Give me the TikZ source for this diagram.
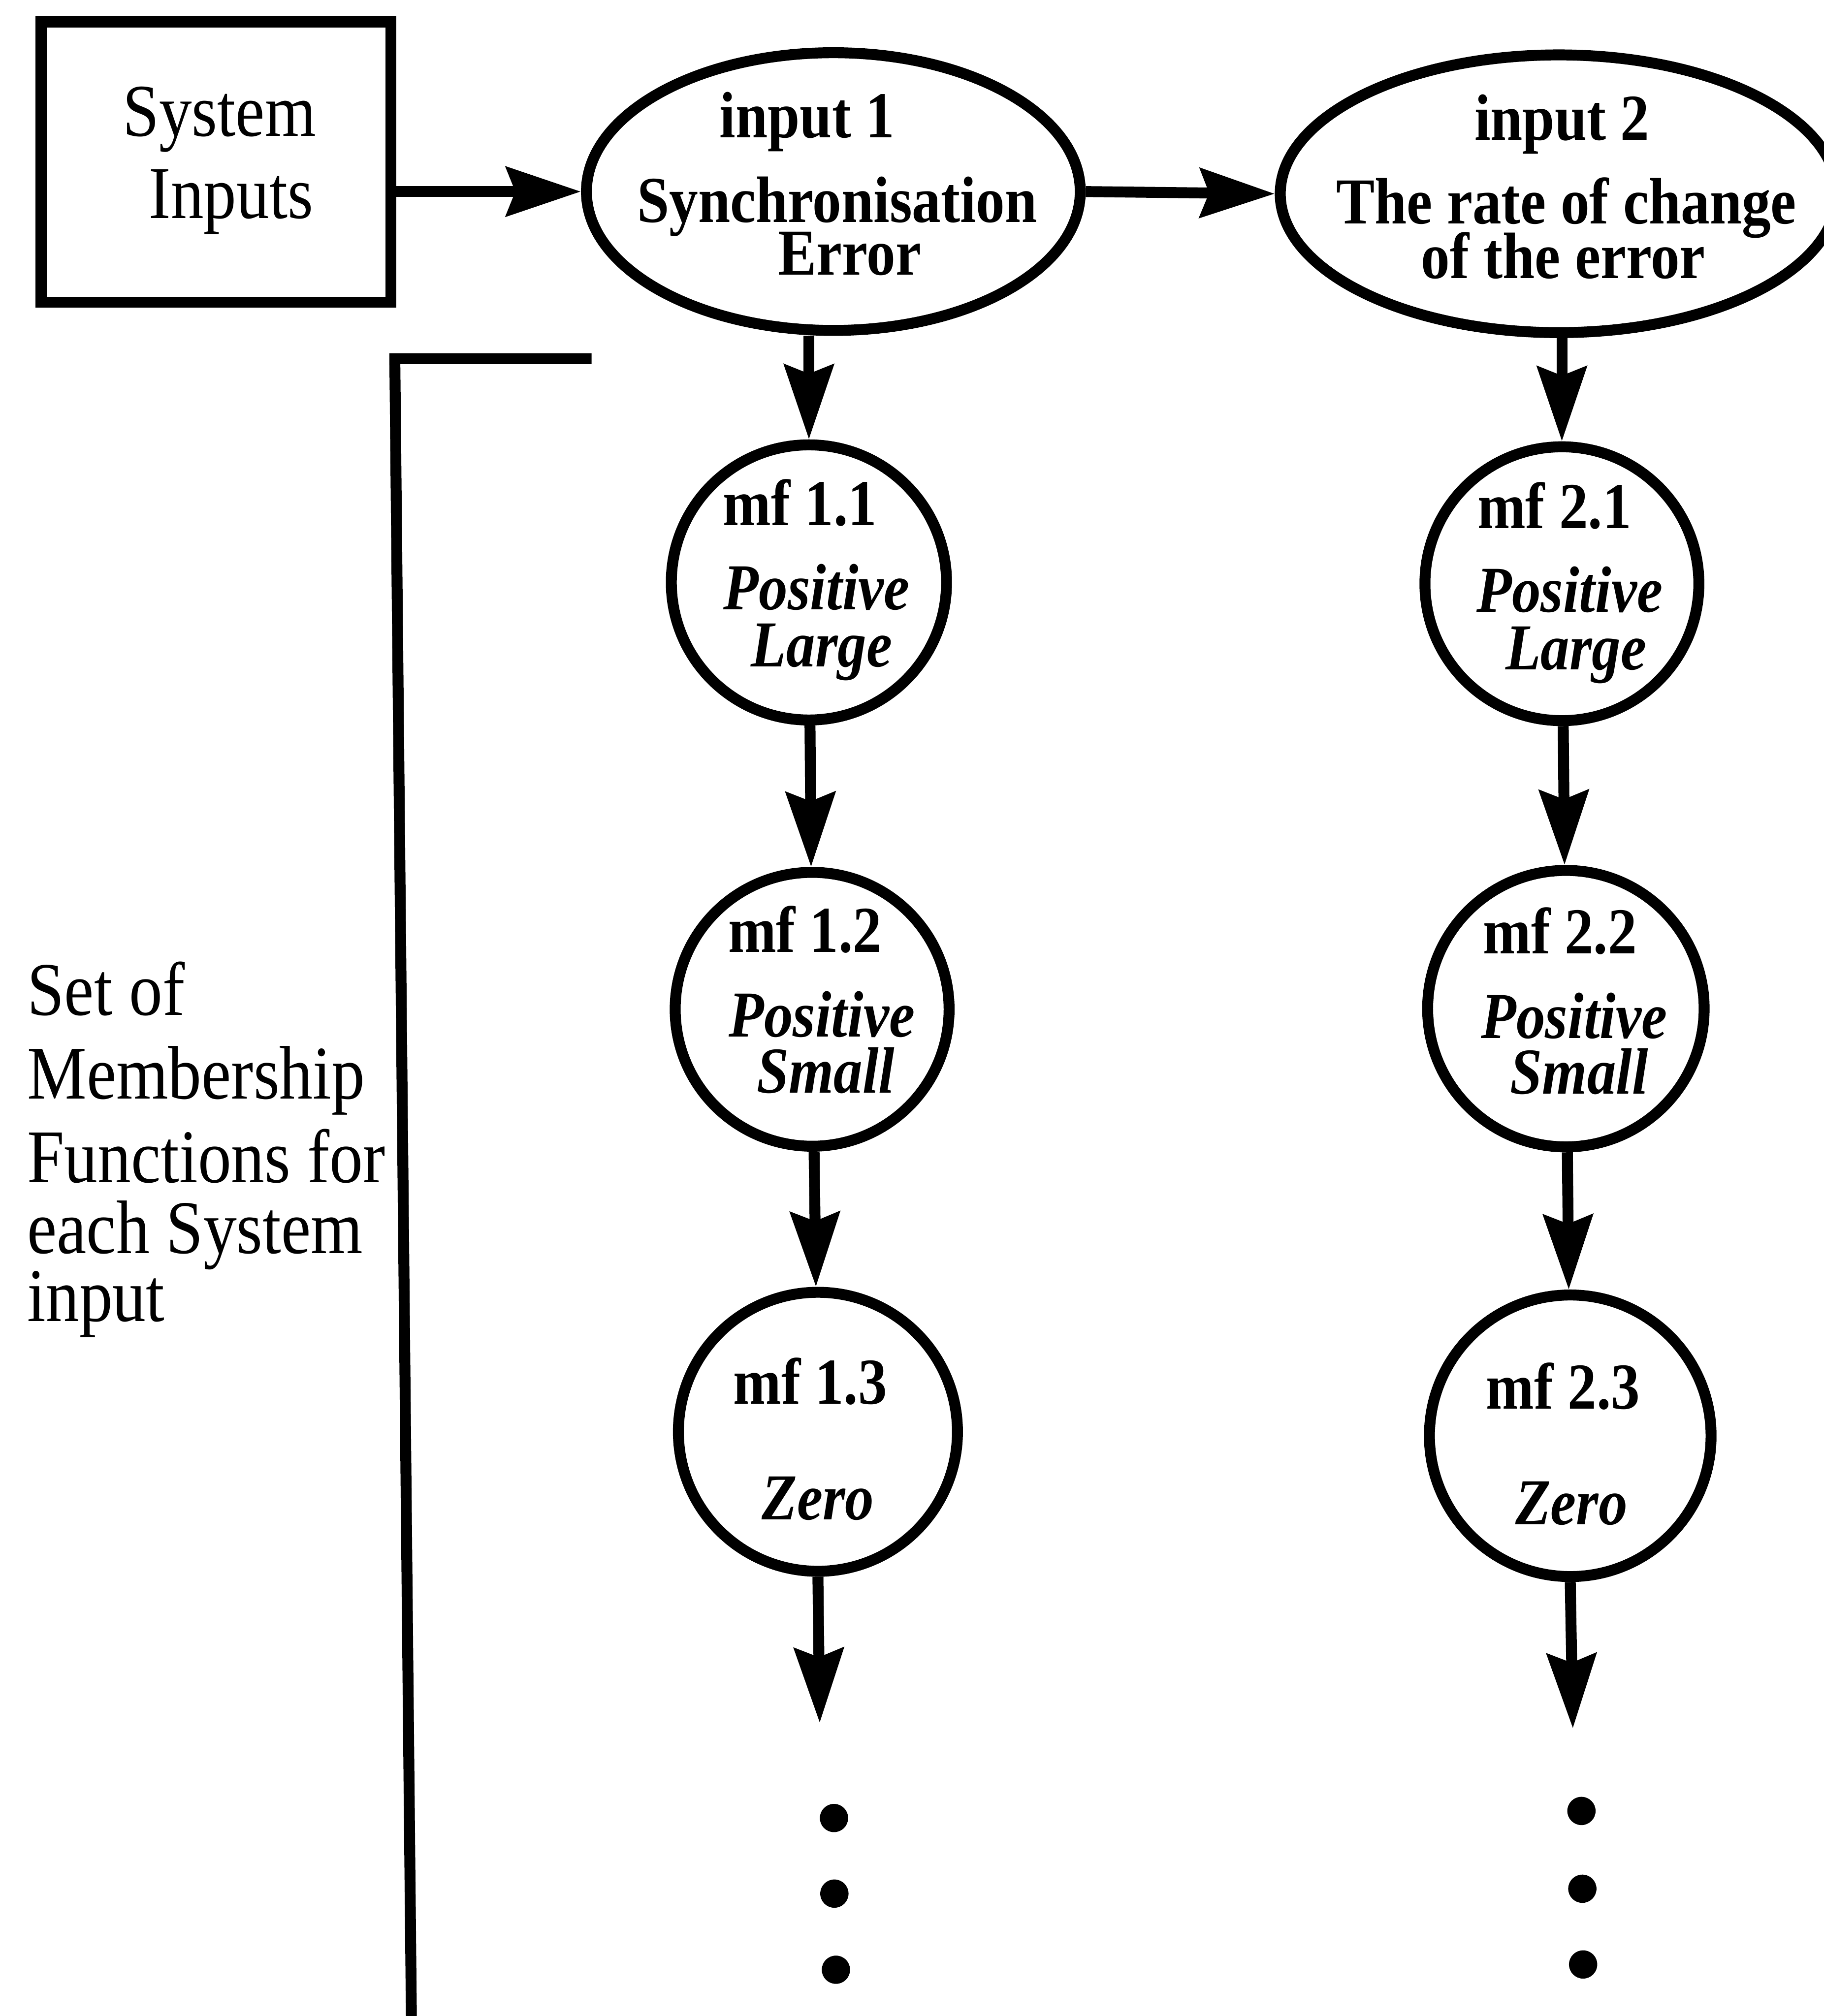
\documentclass[tikz,border=0pt]{standalone}
\usepackage{fontspec}
\setmainfont{Liberation Serif}[FakeStretch=0.88]
\usetikzlibrary{shapes.geometric,arrows.meta}

\begin{document}
\begin{tikzpicture}[x=1pt,y=-1pt,
  line width=8.5pt,
  flow/.style={-{Stealth[length=58pt,width=38pt,inset=7pt]}},
  inputbox/.style={draw,rectangle,inner sep=0pt,line join=miter},
  inputoval/.style={draw,ellipse,inner sep=0pt},
  mfcircle/.style={draw,circle,inner sep=0pt,minimum size=#1},
  dot/.style={fill,circle,inner sep=0pt,minimum size=22pt},
  plaintxt/.style={anchor=base,inner sep=0pt,font=\fontsize{58}{58}\selectfont},
  boldtxt/.style={anchor=base,inner sep=0pt,font=\fontsize{51}{51}\selectfont\bfseries},
  termtxt/.style={anchor=base,inner sep=0pt,font=\fontsize{51}{51}\selectfont\bfseries\itshape}]

\fill[white] (0,0) rectangle (1418,1568);
\useasboundingbox (0,0) rectangle (1418,1568);

% system inputs block
\node[inputbox,minimum width=272pt,minimum height=218pt] (sys) at (168,126) {};
\node[plaintxt] (sysA) at (170.5,105.7) {System};
\node[plaintxt] (sysB) at (179.7,169.8) {Inputs};

% input ovals
\node[inputoval,minimum width=384pt,minimum height=216pt] (in1) at (648,149) {};
\node[boldtxt] (in1a) at (627.6,107) {input 1};
\node[boldtxt] (in1b) at (651,172.7) {Synchronisation};
\node[boldtxt] (in1c) at (660.7,213.7) {Error};

\node[inputoval,minimum width=433pt,minimum height=216pt] (in2) at (1212,150.7) {};
\node[boldtxt] (in2a) at (1214.5,109) {input 2};
\node[boldtxt] (in2b) at (1218,173.8) {The rate of change};
\node[boldtxt] (in2c) at (1215.5,216.5) {of the error};

% membership functions of input 1
\node[mfcircle=214pt] (m11) at (629,453) {};
\node[boldtxt] (m11a) at (622,408.6) {mf 1.1};
\node[termtxt] (m11b) at (635,474) {Positive};
\node[termtxt] (m11c) at (639,518.5) {Large};

\node[mfcircle=213pt] (m12) at (631.5,785) {};
\node[boldtxt] (m12a) at (626,740.5) {mf 1.2};
\node[termtxt] (m12b) at (639,806.5) {Positive};
\node[termtxt] (m12c) at (642,850) {Small};

\node[mfcircle=217pt] (m13) at (636,1113.6) {};
\node[boldtxt] (m13a) at (630,1092) {mf 1.3};
\node[termtxt] (m13b) at (636,1182) {Zero};

% membership functions of input 2
\node[mfcircle=213pt] (m21) at (1214.5,454) {};
\node[boldtxt] (m21a) at (1208.7,411) {mf 2.1};
\node[termtxt] (m21b) at (1220.5,476) {Positive};
\node[termtxt] (m21c) at (1225.5,521) {Large};

\node[mfcircle=215pt] (m22) at (1217.6,784.5) {};
\node[boldtxt] (m22a) at (1213,741.7) {mf 2.2};
\node[termtxt] (m22b) at (1224,807.4) {Positive};
\node[termtxt] (m22c) at (1228,850.7) {Small};

\node[mfcircle=219pt] (m23) at (1221,1116.7) {};
\node[boldtxt] (m23a) at (1215.5,1095.7) {mf 2.3};
\node[termtxt] (m23b) at (1222,1185.6) {Zero};

% continuation dots
\node[dot] (d11) at (648.5,1414) {};
\node[dot] (d12) at (648.8,1472.8) {};
\node[dot] (d13) at (650,1532) {};
\node[dot] (d21) at (1229.7,1408.5) {};
\node[dot] (d22) at (1230.4,1469) {};
\node[dot] (d23) at (1231,1527.9) {};

\coordinate (end1) at (637.4,1340);
\coordinate (end2) at (1223,1344.3);

% connectors
\draw[flow] (sys.east |- in1.west) -- (in1.west);
\draw[flow] (in1.east) -- (in2.west);
\draw[flow] (in1.south -| m11.north) -- (m11.north);
\draw[flow] (m11) -- (m12);
\draw[flow] (m12) -- (m13);
\draw[flow] (m13.south) -- (end1);
\draw[flow] (in2.south -| m21.north) -- (m21.north);
\draw[flow] (m21) -- (m22);
\draw[flow] (m22) -- (m23);
\draw[flow] (m23.south) -- (end2);

% bracket grouping the membership functions
\coordinate (brTop) at (460,279);
\coordinate (brCorner) at (307,279);
\coordinate (brBottom) at (320,1580);
\draw[line join=miter] (brTop) -- (brCorner) -- (brBottom);

\node[anchor=base west,inner sep=0pt,font=\fontsize{59}{65}\selectfont] (setlbl) at (17,789.7)
  {\begin{tabular}[t]{@{}l@{}}Set of\\ Membership\\ Functions for\\[-10pt] each System\\[-12pt] input\end{tabular}};

\end{tikzpicture}
\end{document}
